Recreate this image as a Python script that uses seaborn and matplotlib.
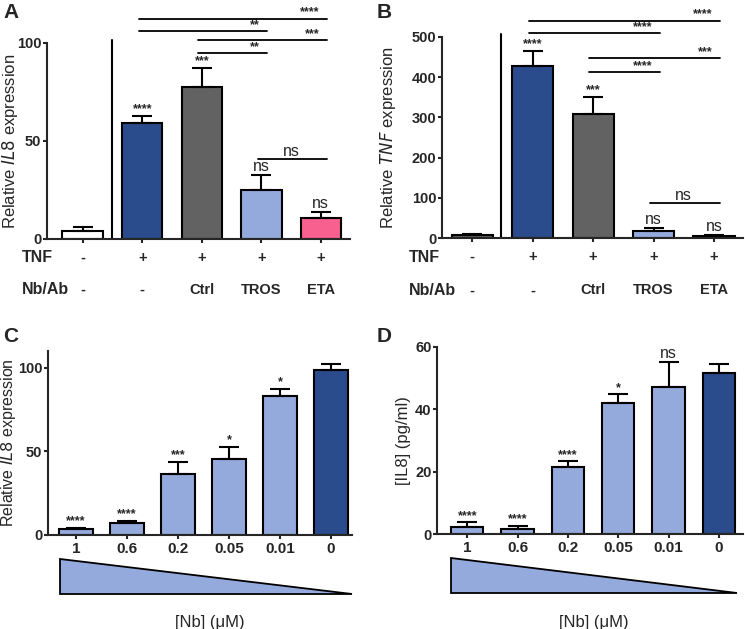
import numpy as np
import pandas as pd
import matplotlib
matplotlib.use('Agg')
import matplotlib.pyplot as plt
from matplotlib.patches import Polygon
import seaborn as sns

# ==================== DATA ====================
# Panel A - relative IL8 expression
a_groups = ['untreated', 'TNF', 'Ctrl', 'TROS', 'ETA']
a_mean = [4.1, 59.0, 77.3, 25.1, 10.7]
a_sem = [2.0, 3.7, 10.2, 7.4, 3.2]
a_stars = ['', '****', '***', 'ns', 'ns']
a_tnf = ['-', '+', '+', '+', '+']
a_nbab = ['-', '-', 'Ctrl', 'TROS', 'ETA']
# (from, to, height, label)
a_brackets = [(1, 4, 112.5, '****'), (1, 3, 106, '**'), (2, 4, 101.5, '***'),
              (2, 3, 95, '**'), (3, 4, 41, 'ns')]

# Panel B - relative TNF expression
b_mean = [6.6, 427, 309, 17.4, 4.0]
b_sem = [3.4, 37, 42, 6.6, 4.0]
b_stars = ['', '****', '***', 'ns', 'ns']
b_brackets = [(1, 4, 541, '****'), (1, 3, 509, '****'), (2, 4, 447, '***'),
              (2, 3, 412, '****'), (3, 4, 86, 'ns')]

# Panel C / D - nanobody titration
nb_conc = ['1', '0.6', '0.2', '0.05', '0.01', '0']
c_mean = [3.6, 7.2, 36.3, 45.3, 83.2, 98.4]
c_sem = [0.8, 1.4, 7.6, 7.4, 4.2, 3.8]
c_stars = ['****', '****', '***', '*', '*', '']
d_mean = [2.4, 1.7, 21.4, 42.1, 47.2, 51.6]
d_sem = [1.35, 1.0, 1.9, 2.7, 7.9, 2.9]
d_stars = ['****', '****', '****', '*', 'ns', '']

# ==================== STYLE ====================
sns.set_style('ticks')
plt.rcParams['font.family'] = ['Liberation Sans', 'DejaVu Sans']
plt.rcParams['axes.linewidth'] = 1.5

DARK = '#2b4c8c'
GREY = '#626262'
LIGHT = '#95aadc'
PINK = '#f7608f'

fig = plt.figure(figsize=(7.45, 6.29), dpi=100)
W, H = 745, 629


def px_axes(left, top, right, bottom):
    return fig.add_axes([left / W, 1 - bottom / H, (right - left) / W, (bottom - top) / H])


def draw_bars(ax, cats, means, sems, colors, xlim, ylim, width):
    df = pd.DataFrame({'cat': cats, 'val': means})
    sns.barplot(data=df, x='cat', y='val', hue='cat', palette=colors, legend=False,
                edgecolor='black', linewidth=1.5, width=width, saturation=1,
                ax=ax, order=cats)
    x = np.arange(len(cats))
    ax.errorbar(x, means, yerr=[np.zeros(len(sems)), sems], fmt='none', ecolor='black',
                elinewidth=1.5, capsize=7, capthick=1.5, zorder=1)
    ax.set_xlim(*xlim)
    ax.set_ylim(*ylim)
    ax.set_xlabel('')
    sns.despine(ax=ax)
    ax.tick_params(axis='both', width=1.5, length=3, labelsize=10.5)
    ax.tick_params(axis='y', pad=1)
    ax.tick_params(axis='x', pad=2)
    for lab in ax.get_yticklabels():
        lab.set_fontweight('bold')


def set_ylab(ax, text, x_px, left_px, width_px, size=12):
    # x_px is the right edge of the rotated label
    ax.set_ylabel(text, fontsize=size)
    ax.yaxis.set_label_coords((x_px - left_px) / width_px, 0.5)


def stars_above(ax, means, sems, labels, pad):
    for i, (m, s, lab) in enumerate(zip(means, sems, labels)):
        if not lab:
            continue
        if lab == 'ns':
            ax.text(i, m + s + pad * 0.3, lab, ha='center', va='bottom', fontsize=11.5)
        else:
            ax.text(i, m + s + pad * 0.2, lab, ha='center', va='bottom', fontsize=9,
                    fontweight='bold')


def brackets(ax, items):
    for x0, x1, h, lab in items:
        ax.plot([x0 - 0.06, x1 + 0.1], [h, h], color='black', lw=1.3, clip_on=False)
        if lab == 'ns':
            ax.text((x0 + x1) / 2, h, lab, ha='center', va='bottom', fontsize=11.5)
        else:
            ax.text(x1 - 0.02, h, lab, ha='right', va='bottom', fontsize=9, fontweight='bold')


def tnf_rows(ax, xlab_x):
    tr = ax.get_xaxis_transform()
    ax.set_xticks(range(5))
    ax.set_xticklabels([])
    for i in range(5):
        ax.text(i, -0.095, a_tnf[i], transform=tr, ha='center', va='center',
                fontsize=10.5, fontweight='bold')
        ax.text(i, -0.26, a_nbab[i], transform=tr, ha='center', va='center',
                fontsize=10.5, fontweight='bold')
    ax.text(xlab_x, -0.095, 'TNF', transform=tr, ha='left', va='center', fontsize=11.5,
            fontweight='bold')
    ax.text(xlab_x, -0.26, 'Nb/Ab', transform=tr, ha='left', va='center', fontsize=11.5,
            fontweight='bold')


# ==================== PANEL A ====================
axA = px_axes(47, 43, 350, 239)
draw_bars(axA, a_groups, a_mean, a_sem, ['white', DARK, GREY, LIGHT, PINK],
          (-0.6, 4.49), (0, 100), 0.68)
axA.set_yticks([0, 50, 100])
set_ylab(axA, 'Relative $\\it{IL8}$ expression', 20, 47, 303)
axA.plot([0.49, 0.49], [0, 101.5], color='black', lw=1.5, clip_on=False)
stars_above(axA, a_mean, a_sem, a_stars, 2)
brackets(axA, a_brackets)
tnf_rows(axA, -1.02)

# ==================== PANEL B ====================
axB = px_axes(442, 37, 743, 238)
draw_bars(axB, a_groups, b_mean, b_sem, [GREY, DARK, GREY, LIGHT, DARK],
          (-0.5, 4.48), (0, 500), 0.68)
axB.set_yticks([0, 100, 200, 300, 400, 500])
set_ylab(axB, 'Relative $\\it{TNF}$ expression', 398, 442, 301)
axB.plot([0.48, 0.48], [0, 507], color='black', lw=1.5, clip_on=False)
stars_above(axB, b_mean, b_sem, b_stars, 10)
brackets(axB, b_brackets)
tnf_rows(axB, -1.04)

# ==================== PANEL C ====================
axC = px_axes(48, 351, 352, 535)
draw_bars(axC, nb_conc, c_mean, c_sem, [LIGHT] * 5 + [DARK],
          (-0.55, 5.41), (0, 110), 0.66)
axC.set_yticks([0, 50, 100])
set_ylab(axC, 'Relative $\\it{IL8}$ expression', 18, 48, 304, size=11.5)
for lab in axC.get_xticklabels():
    lab.set_fontweight('bold')
    lab.set_fontsize(11)
stars_above(axC, c_mean, c_sem, c_stars, 2)

# ==================== PANEL D ====================
axD = px_axes(437, 347, 743, 534)
draw_bars(axD, nb_conc, d_mean, d_sem, [LIGHT] * 5 + [DARK],
          (-0.6, 5.48), (0, 60), 0.64)
axD.set_yticks([0, 20, 40, 60])
set_ylab(axD, '[IL8] (pg/ml)', 411, 437, 306)
for lab in axD.get_xticklabels():
    lab.set_fontweight('bold')
    lab.set_fontsize(11)
stars_above(axD, d_mean, d_sem, d_stars, 1)

# concentration wedges
for x0, x1, y0, y1 in [(60, 352, 559, 594), (451, 737, 558, 593)]:
    pts = [(x0 / W, 1 - y0 / H), (x0 / W, 1 - y1 / H), (x1 / W, 1 - y1 / H)]
    fig.add_artist(Polygon(pts, closed=True, facecolor=LIGHT, edgecolor='black',
                           lw=1.3, transform=fig.transFigure))

fig.text(210 / W, 1 - 623 / H, '[Nb] (\u03bcM)', ha='center', va='center', fontsize=12)
fig.text(594 / W, 1 - 623 / H, '[Nb] (\u03bcM)', ha='center', va='center', fontsize=12)

# panel letters
for lab, x, y in [('A', 3, 12), ('B', 377, 12), ('C', 3, 336), ('D', 377, 336)]:
    fig.text(x / W, 1 - y / H, lab, ha='left', va='center', fontsize=15, fontweight='bold')

fig.savefig('out.png', dpi=100, facecolor='white')
